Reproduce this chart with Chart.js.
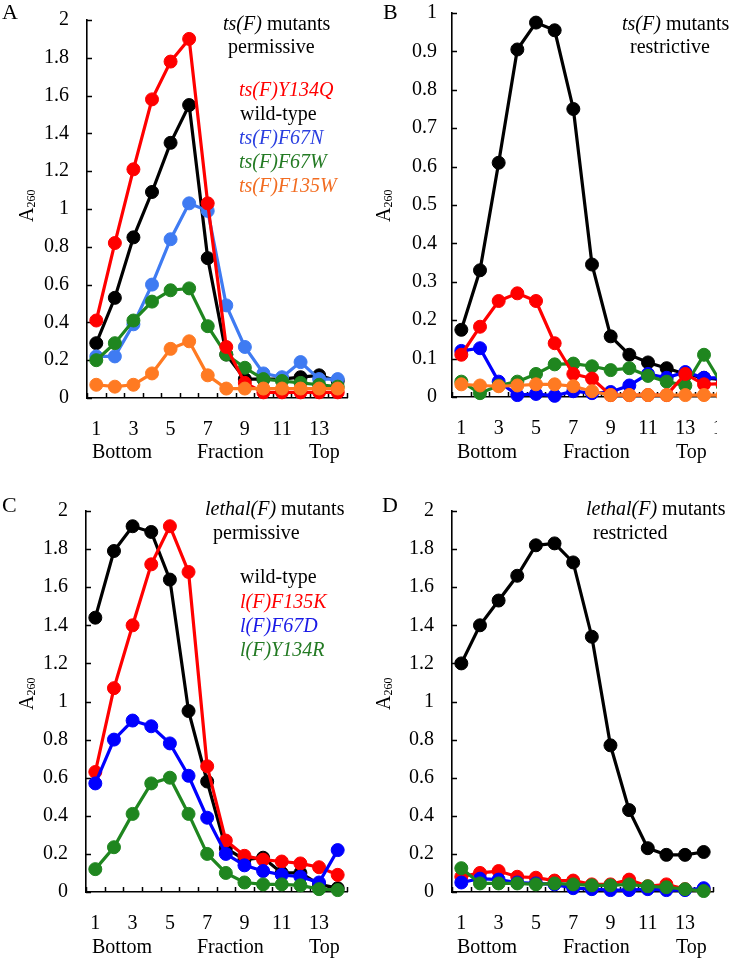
<!DOCTYPE html>
<html>
<head>
<meta charset="utf-8">
<script src="https://cdn.jsdelivr.net/npm/chart.js@4.4.1/dist/chart.umd.min.js"></script>
<style>
body { margin: 0; width: 733px; height: 958px; position: relative; overflow: hidden; background: #fff;
  font-family: "Liberation Serif", "Times New Roman", serif; font-size: 20px; color: #000; }
.box { position: absolute; overflow: hidden; }
.box canvas { position: absolute; left: 0; top: 0; }
.t { position: absolute; white-space: nowrap; line-height: 20px; z-index: 2; }
.i { font-style: italic; }
.ylab { position: absolute; white-space: nowrap; line-height: 20px; transform-origin: 0 0; transform: rotate(-90deg); z-index: 2; }
.ylab span { font-size: 12px; position: relative; top: 2px; }
</style>
</head>
<body>
<div class="t" style="left:2px;top:2px;font-size:22px">A</div>
<div class="t" style="left:223px;top:13px"><i>ts(F)</i> mutants</div>
<div class="t" style="left:228px;top:36px">permissive</div>
<div class="t i" style="left:239px;top:79px;color:#ff0000">ts(F)Y134Q</div>
<div class="t" style="left:240px;top:103px">wild-type</div>
<div class="t i" style="left:239px;top:127px;color:#2a3fe0">ts(F)F67N</div>
<div class="t i" style="left:239px;top:151px;color:#237a23">ts(F)F67W</div>
<div class="t i" style="left:239px;top:175px;color:#f26c21">ts(F)F135W</div>
<div class="ylab" style="left:16px;top:222px">A<span>260</span></div>
<div class="t" style="left:92px;top:441px">Bottom</div>
<div class="t" style="left:197px;top:441px">Fraction</div>
<div class="t" style="left:309px;top:441px">Top</div>

<div class="t" style="left:383px;top:2px;font-size:22px">B</div>
<div class="t" style="left:622px;top:13px"><i>ts(F)</i> mutants</div>
<div class="t" style="left:630px;top:36px">restrictive</div>
<div class="ylab" style="left:373px;top:222px">A<span>260</span></div>
<div class="t" style="left:457px;top:441px">Bottom</div>
<div class="t" style="left:563px;top:441px">Fraction</div>
<div class="t" style="left:676px;top:441px">Top</div>

<div class="t" style="left:2px;top:495px;font-size:22px">C</div>
<div class="t" style="left:205px;top:498px"><i>lethal(F)</i> mutants</div>
<div class="t" style="left:213px;top:522px">permissive</div>
<div class="t" style="left:240px;top:566px">wild-type</div>
<div class="t i" style="left:240px;top:591px;color:#ff0000">l(F)F135K</div>
<div class="t i" style="left:240px;top:615px;color:#1a1ae6">l(F)F67D</div>
<div class="t i" style="left:240px;top:639px;color:#237a23">l(F)Y134R</div>
<div class="ylab" style="left:16px;top:710px">A<span>260</span></div>
<div class="t" style="left:92px;top:936px">Bottom</div>
<div class="t" style="left:197px;top:936px">Fraction</div>
<div class="t" style="left:309px;top:936px">Top</div>

<div class="t" style="left:382px;top:495px;font-size:22px">D</div>
<div class="t" style="left:586px;top:498px"><i>lethal(F)</i> mutants</div>
<div class="t" style="left:593px;top:522px">restricted</div>
<div class="ylab" style="left:373px;top:710px">A<span>260</span></div>
<div class="t" style="left:457px;top:936px">Bottom</div>
<div class="t" style="left:563px;top:936px">Fraction</div>
<div class="t" style="left:676px;top:936px">Top</div>

<script>
// fractions (bottom -> top of gradient)
const fractions = [1, 2, 3, 4, 5, 6, 7, 8, 9, 10, 11, 12, 13, 14];
const fractionsB = [1, 2, 3, 4, 5, 6, 7, 8, 9, 10, 11, 12, 13, 14, 15];

// A: ts(F) mutants, permissive
const aY134Q = [0.41, 0.82, 1.21, 1.58, 1.78, 1.90, 1.03, 0.27, 0.08, 0.03, 0.03, 0.03, 0.03, 0.03];
const aWild = [0.29, 0.53, 0.85, 1.09, 1.35, 1.55, 0.74, 0.23, 0.10, 0.10, 0.10, 0.11, 0.12, 0.09];
const aF67N = [0.22, 0.22, 0.39, 0.60, 0.84, 1.03, 0.99, 0.49, 0.27, 0.13, 0.11, 0.19, 0.10, 0.10];
const aF67W = [0.20, 0.29, 0.41, 0.51, 0.57, 0.58, 0.38, 0.23, 0.16, 0.10, 0.09, 0.08, 0.07, 0.06];
const aF135W = [0.07, 0.06, 0.07, 0.13, 0.26, 0.30, 0.12, 0.05, 0.05, 0.05, 0.05, 0.05, 0.05, 0.05];

// B: ts(F) mutants, restrictive (panel is cut off after fraction 14)
const bWild = [0.175, 0.33, 0.61, 0.905, 0.975, 0.955, 0.75, 0.345, 0.158, 0.11, 0.09, 0.075, 0.06, 0.05, 0.045];
const bY134Q = [0.11, 0.183, 0.25, 0.27, 0.25, 0.14, 0.06, 0.048, 0.005, 0.005, 0.005, 0.005, 0.06, 0.033, 0.035];
const bF67N = [0.12, 0.127, 0.04, 0.005, 0.008, 0.003, 0.015, 0.01, 0.013, 0.03, 0.06, 0.05, 0.065, 0.05, 0.05];
const bF67W = [0.04, 0.01, 0.03, 0.04, 0.06, 0.085, 0.087, 0.08, 0.07, 0.075, 0.055, 0.04, 0.03, 0.11, 0.03];
const bF135W = [0.033, 0.03, 0.028, 0.03, 0.033, 0.033, 0.028, 0.015, 0.005, 0.005, 0.005, 0.005, 0.005, 0.005, 0.005];

// C: lethal(F) mutants, permissive
const cWild = [1.44, 1.79, 1.92, 1.89, 1.64, 0.95, 0.58, 0.23, 0.17, 0.18, 0.10, 0.10, 0.04, 0.02];
const cF135K = [0.63, 1.07, 1.40, 1.72, 1.92, 1.68, 0.66, 0.27, 0.19, 0.17, 0.16, 0.15, 0.13, 0.09];
const cF67D = [0.57, 0.80, 0.90, 0.87, 0.78, 0.61, 0.39, 0.20, 0.14, 0.11, 0.09, 0.08, 0.05, 0.22];
const cY134R = [0.12, 0.235, 0.41, 0.57, 0.60, 0.41, 0.20, 0.10, 0.05, 0.04, 0.04, 0.035, 0.015, 0.01];

// D: lethal(F) mutants, restricted
const dWild = [1.20, 1.40, 1.53, 1.66, 1.82, 1.83, 1.73, 1.34, 0.77, 0.43, 0.23, 0.195, 0.195, 0.21];
const dF135K = [0.08, 0.10, 0.11, 0.08, 0.075, 0.06, 0.06, 0.04, 0.04, 0.065, 0.03, 0.04, 0.015, 0.01];
const dF67D = [0.05, 0.07, 0.065, 0.05, 0.045, 0.04, 0.02, 0.015, 0.01, 0.01, 0.015, 0.01, 0.01, 0.02];
const dY134R = [0.125, 0.045, 0.045, 0.045, 0.04, 0.045, 0.04, 0.035, 0.035, 0.04, 0.03, 0.025, 0.015, 0.005];

const RED = '#ff0000', BLACK = '#000000', BLUE = '#0000ff', LBLUE = '#3f7bf2', GREEN = '#1f861f', ORANGE = '#ff7a22';

Chart.defaults.font.family = '"Liberation Serif", "Times New Roman", serif';
Chart.defaults.font.size = 20;
Chart.defaults.color = '#000';

// tick marks pointing into the plot, x ticks sit between fractions
const insideTicks = {
    id: 'insideTicks',
    beforeDatasetsDraw(chart) {
        const { ctx, scales: { x, y } } = chart;
        ctx.save();
        ctx.strokeStyle = '#000';
        ctx.lineWidth = 1.5;
        ctx.beginPath();
        for (const t of y.ticks) {
            const py = Math.round(y.getPixelForValue(t.value)) + 0.5;
            ctx.moveTo(y.right, py);
            ctx.lineTo(y.right + 5, py);
        }
        const half = (x.getPixelForValue(1) - x.getPixelForValue(0)) / 2;
        for (let i = 0; i <= x.ticks.length; i++) {
            const px = Math.round(x.getPixelForValue(i) - half) + 0.5;
            ctx.moveTo(px, x.top);
            ctx.lineTo(px, x.top - 5);
        }
        ctx.stroke();
        ctx.restore();
    }
};

// series listed bottom -> top in drawing order
function makePanel(area, cats, yMax, yStep, yPad, series, clipRight) {
    const W = 70 + (area.r - area.l) + 40,
        H = 20 + (area.b - area.t) + 60,
        left = area.l - 70,
        top = area.t - 20;
    const wrap = document.createElement('div');
    wrap.className = 'box';
    wrap.style.left = left + 'px';
    wrap.style.top = top + 'px';
    wrap.style.width = ((clipRight || left + W) - left) + 'px';
    wrap.style.height = H + 'px';
    const cv = document.createElement('canvas');
    cv.width = W;
    cv.height = H;
    wrap.append(cv);
    document.body.append(wrap);

    new Chart(cv, {
        type: 'line',
        data: {
            labels: cats,
            datasets: series.map((s, i) => ({
                label: s.name,
                data: s.data,
                borderColor: s.color,
                backgroundColor: s.color,
                pointBackgroundColor: s.color,
                pointBorderColor: s.color,
                borderWidth: 3.2,
                pointRadius: 6.5,
                pointBorderWidth: 1,
                tension: 0,
                clip: false,
                order: series.length - i
            }))
        },
        options: {
            responsive: false,
            animation: false,
            layout: { padding: { left: 10, top: 20, right: 40, bottom: 10 } },
            plugins: { legend: { display: false }, tooltip: { enabled: false } },
            scales: {
                x: {
                    type: 'category',
                    offset: true,
                    grid: { display: true, drawOnChartArea: false, drawTicks: false },
                    border: { display: true, color: '#000', width: 1.6 },
                    ticks: {
                        autoSkip: false, maxRotation: 0, padding: 20,
                        callback: (v, i) => i % 2 === 0 ? String(cats[i]) : ''
                    },
                    afterFit: s => { s.height = 50; }
                },
                y: {
                    min: 0, max: yMax,
                    grid: { display: true, drawOnChartArea: false, drawTicks: false },
                    border: { display: true, color: '#000', width: 1.6 },
                    ticks: { stepSize: yStep, padding: yPad, callback: v => String(Math.round(v * 10) / 10) },
                    afterFit: s => { s.width = 60; }
                }
            }
        },
        plugins: [insideTicks]
    });
}

makePanel({ l: 87, t: 10, r: 347, b: 398 }, fractions, 2, 0.2, 18, [
    { name: 'wild-type', data: aWild, color: BLACK },
    { name: 'ts(F)F67N', data: aF67N, color: LBLUE },
    { name: 'ts(F)F67W', data: aF67W, color: GREEN },
    { name: 'ts(F)Y134Q', data: aY134Q, color: RED },
    { name: 'ts(F)F135W', data: aF135W, color: ORANGE }
]);

makePanel({ l: 452, t: 6, r: 732, b: 397.5 }, fractionsB, 1, 0.1, 15, [
    { name: 'wild-type', data: bWild, color: BLACK },
    { name: 'ts(F)F67N', data: bF67N, color: BLUE },
    { name: 'ts(F)F67W', data: bF67W, color: GREEN },
    { name: 'ts(F)Y134Q', data: bY134Q, color: RED },
    { name: 'ts(F)F135W', data: bF135W, color: ORANGE }
], 717);

makePanel({ l: 86, t: 501, r: 347, b: 892 }, fractions, 2, 0.2, 18, [
    { name: 'wild-type', data: cWild, color: BLACK },
    { name: 'l(F)F135K', data: cF135K, color: RED },
    { name: 'l(F)F67D', data: cF67D, color: BLUE },
    { name: 'l(F)Y134R', data: cY134R, color: GREEN }
]);

makePanel({ l: 452, t: 501, r: 713, b: 892 }, fractions, 2, 0.2, 18, [
    { name: 'wild-type', data: dWild, color: BLACK },
    { name: 'l(F)F135K', data: dF135K, color: RED },
    { name: 'l(F)F67D', data: dF67D, color: BLUE },
    { name: 'l(F)Y134R', data: dY134R, color: GREEN }
]);
</script>
</body>
</html>
